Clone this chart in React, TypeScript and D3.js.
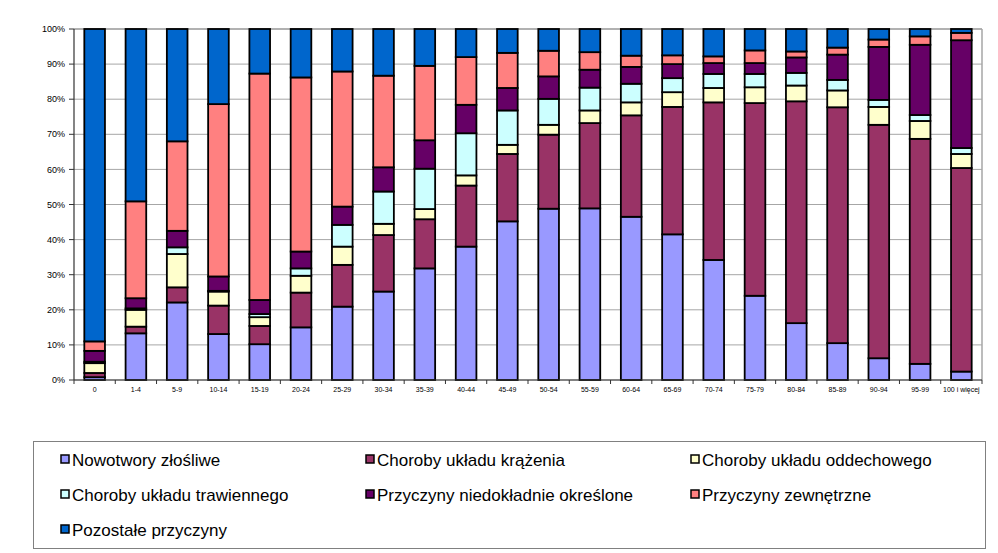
import React from "react";
import * as d3 from "d3";

const categories = ["0","1-4","5-9","10-14","15-19","20-24","25-29","30-34","35-39","40-44","45-49","50-54","55-59","60-64","65-69","70-74","75-79","80-84","85-89","90-94","95-99","100 i więcej"];

const seriesNames = [
  "Nowotwory złośliwe",
  "Choroby układu krążenia",
  "Choroby układu oddechowego",
  "Choroby układu trawiennego",
  "Przyczyny niedokładnie określone",
  "Przyczyny zewnętrzne",
  "Pozostałe przyczyny",
];

const nowotwory = [0.8,13.3,22.1,13.1,10.2,15.0,20.9,25.2,31.8,38.0,45.2,48.8,48.9,46.5,41.5,34.2,24.0,16.2,10.5,6.2,4.6,2.4];
const krazenia = [1.2,1.9,4.3,8.1,5.2,9.9,11.9,16.1,14.0,17.4,19.2,21.1,24.3,28.9,36.3,44.9,54.9,63.2,67.2,66.5,64.1,58.0];
const oddechowego = [2.8,4.8,9.5,4.0,2.5,4.8,5.2,3.2,2.9,2.9,2.6,2.8,3.6,3.7,4.2,4.1,4.5,4.5,4.8,5.1,5.1,4.0];
const trawiennego = [0.4,0.4,1.9,0.2,0.9,2.1,6.2,9.2,11.5,12.0,9.8,7.4,6.5,5.3,4.0,4.0,3.8,3.6,3.0,2.0,1.7,1.7];
const niedokladnie = [3.1,2.9,4.7,4.1,4.0,4.8,5.2,6.9,8.1,8.1,6.4,6.4,5.1,4.8,4.0,3.1,3.1,4.4,7.2,15.1,20.0,30.7];
const zewnetrzne = [2.7,27.6,25.5,49.1,64.5,49.6,38.5,26.1,21.2,13.6,10.0,7.3,5.0,3.2,2.5,1.9,3.6,1.7,2.0,2.1,2.4,2.1];
const pozostale = [89.0,49.1,32.0,21.4,12.7,13.8,12.1,13.3,10.5,8.0,6.8,6.2,6.6,7.6,7.5,7.8,6.1,6.4,5.3,3.0,2.1,1.1];

const colors = ["#9999FF","#993366","#FFFFCC","#CCFFFF","#660066","#FF8080","#0066CC"];
const yTicks = [0,0.1,0.2,0.3,0.4,0.5,0.6,0.7,0.8,0.9,1.0];

const seriesValues = [nowotwory, krazenia, oddechowego, trawiennego, niedokladnie, zewnetrzne, pozostale];

export default function App() {
  const W = 998, H = 553;
  const left = 74, right = 982, top = 29, bottom = 380;
  const font = "'Liberation Sans', Arial, sans-serif";

  const rows = categories.map((c, i) => {
    const r: any = { cat: c };
    seriesNames.forEach((s, k) => (r[s] = seriesValues[k][i]));
    return r;
  });
  const stacked = d3.stack<any>().keys(seriesNames).offset(d3.stackOffsetExpand)(rows);

  const x = d3.scaleBand().domain(categories).range([left, right]).paddingInner(0.5).paddingOuter(0.25);
  const y = d3.scaleLinear().domain([0, 1]).range([bottom, top]);
  const step = x.step();
  const fmt = d3.format(".0%");

  const legendCols = [60, 365, 690];
  const legendRows = [460, 495, 530];

  return (
    <div style={{ position: "absolute", left: 0, top: 0 }}>
      <svg width={W} height={H} style={{ display: "block", background: "#fff" }}>
        {yTicks.map((t) => (
          <line key={"g" + t} x1={left} x2={right} y1={y(t)} y2={y(t)} stroke="#a6a6a6" strokeWidth={1} />
        ))}
        <line x1={right} x2={right} y1={top} y2={bottom} stroke="#a6a6a6" strokeWidth={1.5} />
        <line x1={left} x2={right} y1={top} y2={top} stroke="#a6a6a6" strokeWidth={1.5} />
        {stacked.map((layer, k) => (
          <g key={layer.key}>
            {layer.map((d, i) => (
              <rect
                key={i}
                x={x(categories[i])}
                width={x.bandwidth()}
                y={y(d[1])}
                height={Math.max(0, y(d[0]) - y(d[1]))}
                fill={colors[k]}
                stroke="#000"
                strokeWidth={1.8}
              />
            ))}
          </g>
        ))}
        <line x1={left} x2={left} y1={top} y2={bottom} stroke="#333" strokeWidth={1.2} />
        {yTicks.map((t) => (
          <g key={"t" + t}>
            <line x1={left - 5} x2={left} y1={y(t)} y2={y(t)} stroke="#333" strokeWidth={1} />
            <text x={65} y={y(t)} dy="0.35em" textAnchor="end" fontFamily={font} fontSize={9} fill="#000">
              {fmt(t)}
            </text>
          </g>
        ))}
        <line x1={left} x2={right} y1={bottom} y2={bottom} stroke="#333" strokeWidth={1.2} />
        {d3.range(categories.length + 1).map((i) => (
          <line key={"xt" + i} x1={left + i * step} x2={left + i * step} y1={bottom} y2={bottom + 4} stroke="#333" strokeWidth={1} />
        ))}
        {categories.map((c) => (
          <text key={"xl" + c} x={(x(c) as number) + x.bandwidth() / 2} y={392} textAnchor="middle" fontFamily={font} fontSize={7} fill="#000">
            {c}
          </text>
        ))}
        <rect x={33.5} y={441.5} width={952} height={107} fill="#fff" stroke="#808080" strokeWidth={1} />
        {seriesNames.map((s, k) => {
          const cx = legendCols[k % 3];
          const cy = legendRows[Math.floor(k / 3)];
          return (
            <g key={"lg" + s}>
              <rect x={cx + 1} y={cy - 5} width={8} height={8} fill={colors[k]} stroke="#000" strokeWidth={1.5} />
              <text x={cx + 12} y={cy} dy="0.35em" fontFamily={font} fontSize={17} fill="#000">
                {s}
              </text>
            </g>
          );
        })}
      </svg>
    </div>
  );
}
